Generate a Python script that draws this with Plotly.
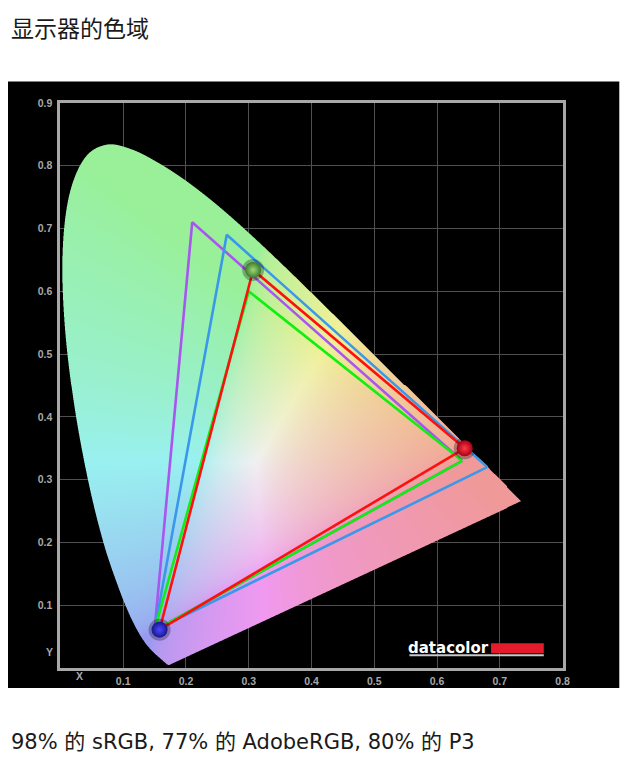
import base64, struct, zlib
import numpy as np
import plotly.graph_objects as go

# ---------------- data ----------------
# CIE 1931 2-degree spectral locus (380..700 nm, 5 nm steps)
locus_x = [0.1741, 0.1740, 0.1738, 0.1736, 0.1733, 0.1730, 0.1726, 0.1721, 0.1714, 0.1703,
           0.1689, 0.1669, 0.1644, 0.1611, 0.1566, 0.1510, 0.1440, 0.1355, 0.1241, 0.1096,
           0.0913, 0.0687, 0.0454, 0.0235, 0.0082, 0.0039, 0.0139, 0.0389, 0.0743, 0.1142,
           0.1547, 0.1929, 0.2296, 0.2658, 0.3016, 0.3373, 0.3731, 0.4087, 0.4441, 0.4788,
           0.5125, 0.5448, 0.5752, 0.6029, 0.6270, 0.6482, 0.6658, 0.6801, 0.6915, 0.7006,
           0.7079, 0.7140, 0.7190, 0.7230, 0.7260, 0.7283, 0.7300, 0.7311, 0.7320, 0.7327,
           0.7334, 0.7340, 0.7344, 0.7346, 0.7347]
locus_y = [0.0050, 0.0050, 0.0049, 0.0049, 0.0048, 0.0048, 0.0048, 0.0048, 0.0051, 0.0058,
           0.0069, 0.0086, 0.0109, 0.0138, 0.0177, 0.0227, 0.0297, 0.0399, 0.0578, 0.0868,
           0.1327, 0.2007, 0.2950, 0.4127, 0.5384, 0.6548, 0.7502, 0.8120, 0.8338, 0.8262,
           0.8059, 0.7816, 0.7543, 0.7243, 0.6923, 0.6589, 0.6245, 0.5896, 0.5547, 0.5202,
           0.4866, 0.4544, 0.4242, 0.3965, 0.3725, 0.3514, 0.3340, 0.3197, 0.3083, 0.2993,
           0.2920, 0.2859, 0.2809, 0.2770, 0.2740, 0.2717, 0.2700, 0.2689, 0.2680, 0.2673,
           0.2666, 0.2660, 0.2656, 0.2654, 0.2653]

# gamut triangles (R, G, B chromaticities)
adobe_x = [0.64, 0.21, 0.15]
adobe_y = [0.33, 0.71, 0.06]
p3_x = [0.68, 0.265, 0.15]
p3_y = [0.32, 0.69, 0.06]
srgb_x = [0.64, 0.30, 0.15]
srgb_y = [0.33, 0.60, 0.06]
display_x = [0.644, 0.307, 0.158]
display_y = [0.350, 0.634, 0.061]

x_ticks = [0.1, 0.2, 0.3, 0.4, 0.5, 0.6, 0.7, 0.8]
y_ticks = [0.1, 0.2, 0.3, 0.4, 0.5, 0.6, 0.7, 0.8, 0.9]

title_text = "显示器的色域"
caption_text = "98% 的 sRGB, 77% 的 AdobeRGB, 80% 的 P3"

# ---------------- chromaticity background image ----------------
XMAX, YMAX = 0.8, 0.9
NX, NY = 503, 566
dx, dy = XMAX / NX, YMAX / NY
SS = 3  # supersampling for smooth edge


def smooth_curve(xs, ys, n=10):
    """Catmull-Rom smoothing of the locus outline (rendering only)."""
    P = np.column_stack([xs, ys])
    P = np.vstack([P[0], P, P[-1]])
    out = []
    t = np.linspace(0, 1, n, endpoint=False)[:, None]
    for i in range(1, len(P) - 2):
        p0, p1, p2, p3 = P[i - 1], P[i], P[i + 1], P[i + 2]
        seg = 0.5 * ((2 * p1) + (-p0 + p2) * t + (2 * p0 - 5 * p1 + 4 * p2 - p3) * t ** 2
                     + (-p0 + 3 * p1 - 3 * p2 + p3) * t ** 3)
        out.append(seg)
    out.append(P[-2][None, :])
    out = np.vstack(out)
    return out[:, 0], out[:, 1]


sx, sy = smooth_curve(locus_x, locus_y)
poly_x = np.append(sx, sx[0])
poly_y = np.append(sy, sy[0])

sub = (np.arange(SS) + 0.5) / SS
gx = ((np.arange(NX)[:, None] + sub[None, :]) * dx).ravel()
gy = ((np.arange(NY)[:, None] + sub[None, :]) * dy).ravel()
PX, PY = np.meshgrid(gx, gy)  # row 0 = lowest y

inside = np.zeros(PX.shape, dtype=bool)
for i in range(len(poly_x) - 1):
    x1, y1, x2, y2 = poly_x[i], poly_y[i], poly_x[i + 1], poly_y[i + 1]
    if y2 == y1:
        continue
    cond = (y1 > PY) != (y2 > PY)
    xint = x1 + (PY - y1) * (x2 - x1) / (y2 - y1)
    inside ^= cond & (PX < xint)
alpha = inside.reshape(NY, SS, NX, SS).mean(axis=(1, 3))

cx = (np.arange(NX) + 0.5) * dx
cy = (np.arange(NY) + 0.5) * dy
CX, CY = np.meshgrid(cx, cy)
CYs = np.maximum(CY, 1e-4)
X = CX / CYs
Yv = np.ones_like(CX)
Z = (1 - CX - CY) / CYs
M = np.array([[3.2406, -1.5372, -0.4986],
              [-0.9689, 1.8758, 0.0415],
              [0.0557, -0.2040, 1.0570]])
lin = np.stack([M[k, 0] * X + M[k, 1] * Yv + M[k, 2] * Z for k in range(3)], axis=-1)
lin = np.clip(lin, 0, None)
lin = lin / np.maximum(lin.max(axis=-1, keepdims=True), 1e-9)
lin[..., 2] = lin[..., 2] ** 1.6
srgb = np.where(lin <= 0.0031308, 12.92 * lin, 1.055 * np.power(lin, 1 / 2.4) - 0.055)
lo, hi = 0.60, 0.945
col = lo + (hi - lo) * srgb
rgba = np.zeros((NY, NX, 4), dtype=np.uint8)
rgba[..., :3] = np.clip(col * 255, 0, 255).astype(np.uint8)
rgba[..., 3] = np.clip(alpha * 255, 0, 255).astype(np.uint8)


def png_uri(arr):
    h, w, _ = arr.shape
    raw = b"".join(b"\x00" + arr[i].tobytes() for i in range(h))

    def chunk(t, d):
        return struct.pack(">I", len(d)) + t + d + struct.pack(">I", zlib.crc32(t + d) & 0xFFFFFFFF)

    png = (b"\x89PNG\r\n\x1a\n" + chunk(b"IHDR", struct.pack(">IIBBBBB", w, h, 8, 6, 0, 0, 0))
           + chunk(b"IDAT", zlib.compress(raw, 9)) + chunk(b"IEND", b""))
    return "data:image/png;base64," + base64.b64encode(png).decode()


fig = go.Figure()
fig.add_trace(go.Image(source=png_uri(rgba), x0=dx / 2, y0=dy / 2, dx=dx, dy=dy,
                       hoverinfo="skip"))


def tri(xs, ys, color, name):
    fig.add_trace(go.Scatter(x=xs + [xs[0]], y=ys + [ys[0]], mode="lines", name=name,
                             line=dict(color=color, width=2.6), hoverinfo="skip"))


tri(adobe_x, adobe_y, "#a955ef", "AdobeRGB")
tri(p3_x, p3_y, "#3a98ea", "P3")
tri(srgb_x, srgb_y, "#12ee12", "sRGB")
tri(display_x, display_y, "#ff1010", "Display")

# sphere markers at display primaries
fig.add_trace(go.Scatter(x=display_x, y=display_y, mode="markers", hoverinfo="skip",
                         marker=dict(size=22, color="rgba(0,0,0,0.28)", line=dict(width=0))))
fig.add_trace(go.Scatter(
    x=display_x, y=display_y, mode="markers", hoverinfo="skip",
    marker=dict(size=16, color=["#a80014", "#3c7a2c", "#18168e"],
                gradient=dict(type="radial", color=["#ff3a4a", "#9fd873", "#4a48ff"]),
                line=dict(width=0))))

# ---------------- layout ----------------
# the page body has an 8px margin; figure pixel = screen pixel - 8
OFF = 8
W, H = 615, 747
L, T = 60.2 - OFF, 102.5 - OFF
PW, PH = 503, 566


def px2paper_x(px):
    return (px - OFF - L) / PW


def py2paper_y(py):
    return (T + PH - (py - OFF)) / PH


shapes = [
    dict(type="rect", xref="paper", yref="paper", layer="below",
         x0=px2paper_x(8), x1=px2paper_x(619.5), y0=py2paper_y(688.5), y1=py2paper_y(81),
         fillcolor="black", line=dict(width=0)),
    # datacolor logo bar and underline
    dict(type="rect", xref="x", yref="y", x0=0.686, x1=0.770, y0=0.0235, y1=0.0393,
         fillcolor="#e31b2a", line=dict(width=0), layer="above"),
    dict(type="line", xref="x", yref="y", x0=0.556, x1=0.770, y0=0.0205, y1=0.0205,
         line=dict(color="#c8c8c8", width=2), layer="above"),
]

tickfont = dict(family="Liberation Sans", size=10.5, color="#a8a8a8", weight="bold")
annotations = [
    dict(text=title_text, xref="paper", yref="paper", x=px2paper_x(9), y=py2paper_y(26),
         xanchor="left", yanchor="middle", showarrow=False,
         font=dict(family="Noto Sans CJK SC", size=23, color="#1a1a1a")),
    dict(text=caption_text, xref="paper", yref="paper", x=px2paper_x(9), y=py2paper_y(743),
         xanchor="left", yanchor="middle", showarrow=False,
         font=dict(family="DejaVu Sans, Noto Sans CJK SC", size=21, color="#1a1a1a")),
    dict(text="X", xref="x", yref="paper", x=0.03, y=py2paper_y(677), xanchor="center",
         yanchor="middle", showarrow=False, font=tickfont),
    dict(text="Y", xref="paper", yref="y", x=px2paper_x(55), y=0.025, xanchor="right",
         yanchor="middle", showarrow=False, font=tickfont),
    dict(text="<b>datacolor</b>", xref="x", yref="y", x=0.686, y=0.032, xanchor="right",
         yanchor="middle", showarrow=False,
         font=dict(family="DejaVu Sans", size=15, color="white")),
]

fig.update_layout(
    width=W, height=H,
    margin=dict(l=L, r=W - L - PW, t=T, b=H - T - PH, pad=0),
    paper_bgcolor="white", plot_bgcolor="black",
    showlegend=False, hovermode=False,
    shapes=shapes, annotations=annotations,
    xaxis=dict(range=[0, XMAX], autorange=False, tickvals=x_ticks,
               ticktext=[f"{v:.1f}" for v in x_ticks],
               showgrid=True, gridcolor="#505050", gridwidth=1, zeroline=False,
               showline=True, linecolor="#a8a8a8", linewidth=3, mirror=True,
               ticks="outside", ticklen=1, tickcolor="black", tickfont=tickfont),
    yaxis=dict(range=[0, YMAX], autorange=False, tickvals=y_ticks,
               ticktext=[f"{v:.1f}" for v in y_ticks],
               showgrid=True, gridcolor="#505050", gridwidth=1, zeroline=False,
               showline=True, linecolor="#a8a8a8", linewidth=3, mirror=True,
               ticks="outside", ticklen=3, tickcolor="black", tickfont=tickfont,
               scaleanchor="x", scaleratio=1, constrain="domain"),
)

fig.write_html("out.html")
